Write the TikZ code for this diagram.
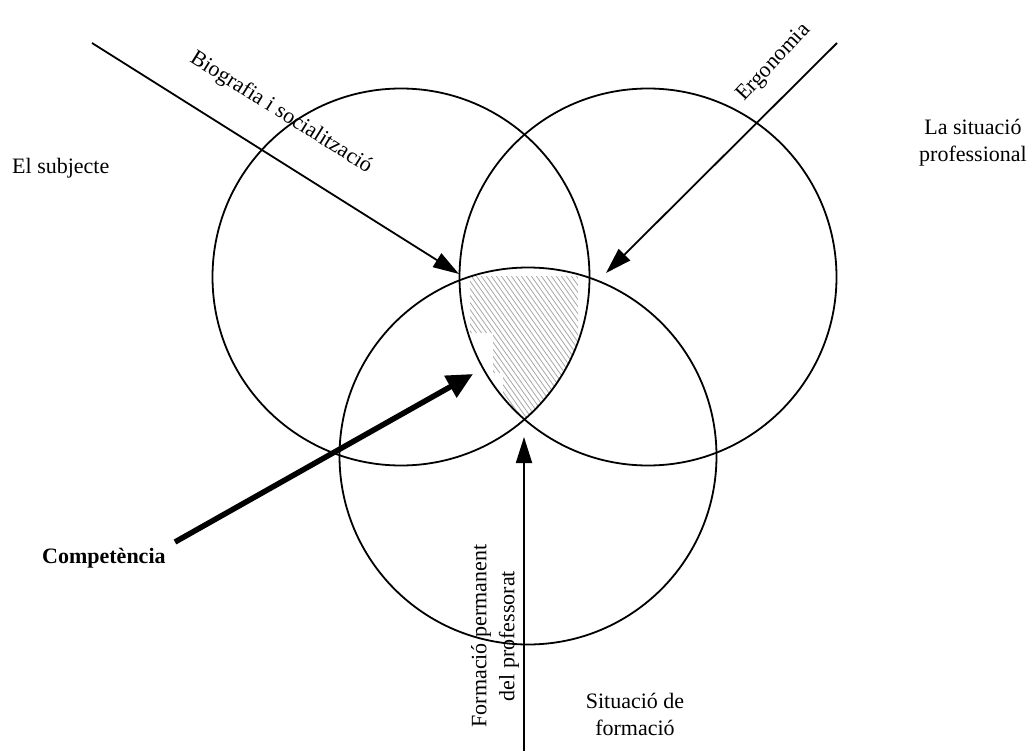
\documentclass[tikz,border=0pt]{standalone}
\usepackage{fontspec}
\setmainfont{Liberation Serif}
\usetikzlibrary{arrows.meta}
\begin{document}
\begin{tikzpicture}[x=1pt,y=-1pt,
  circ/.style={draw, circle, line width=1.8pt, minimum size=377pt, inner sep=0pt, outer sep=0pt},
  lbl/.style={font=\fontsize{22}{27}\selectfont, inner sep=0pt, align=center},
  thinarrow/.style={line width=1.8pt, -{Triangle[length=26pt,width=16pt]}},
  thickarrow/.style={line width=5.5pt, -{Triangle[length=26pt,width=24pt]}},
  hatchline/.style={black!35, line width=0.8pt}]
\useasboundingbox (0,0) rectangle (1030,751);
\coordinate (c1) at (401,277);
\coordinate (c2) at (648,277);
\coordinate (c3) at (528,456);
% hatched part of the common region
\begin{scope}
  \clip (c1) circle (188.5pt);
  \clip (c2) circle (188.5pt);
  \clip (c3) circle (188pt);
  \clip (470,276) -- (578,276) -- (578,368) -- (563,368) -- (563,425)
        -- (503,425) -- (503,373) -- (493,373) -- (493,333) -- (470,333) -- cycle;
  \foreach \a in {330,335,...,600} \draw[hatchline] (\a,260) -- ++(120,170);
\end{scope}
% circles
\node[circ] (subjc) at (c1) {};
\node[circ] (profc) at (c2) {};
\node[circ] (formc) at (c3) {};
% labels
\node[lbl, anchor=west] (subj) at (12,168) {El subjecte};
\node[lbl] (prof) at (973,143) {La situació\\professional};
\node[lbl] (form) at (635,714) {Situació de\\formació};
\node[lbl, anchor=west, font=\fontsize{22}{27}\selectfont\bfseries] (comp) at (42,558) {Competència};
\node[lbl, rotate=-32] (bio) at (281,113) {Biografia i socialització};
\node[lbl, rotate=47] (ergo) at (774,63) {Ergonomia};
\node[lbl, rotate=90, font=\fontsize{22}{28}\selectfont] (fpp) at (495,636) {Formació permanent\\del professorat};
% arrows
\coordinate (bioS) at (92,43);
\coordinate (bioT) at (459,274);
\coordinate (ergS) at (837,43);
\coordinate (ergT) at (606,273);
\coordinate (compS) at (175,542);
\coordinate (compT) at (473,374);
\coordinate (fppS) at (524,751);
\coordinate (fppT) at (524,437);
\draw[thinarrow] (bioS) -- (bioT);
\draw[thinarrow] (ergS) -- (ergT);
\draw[thinarrow] (fppS) -- (fppT);
\draw[thickarrow] (compS) -- (compT);
\end{tikzpicture}
\end{document}
